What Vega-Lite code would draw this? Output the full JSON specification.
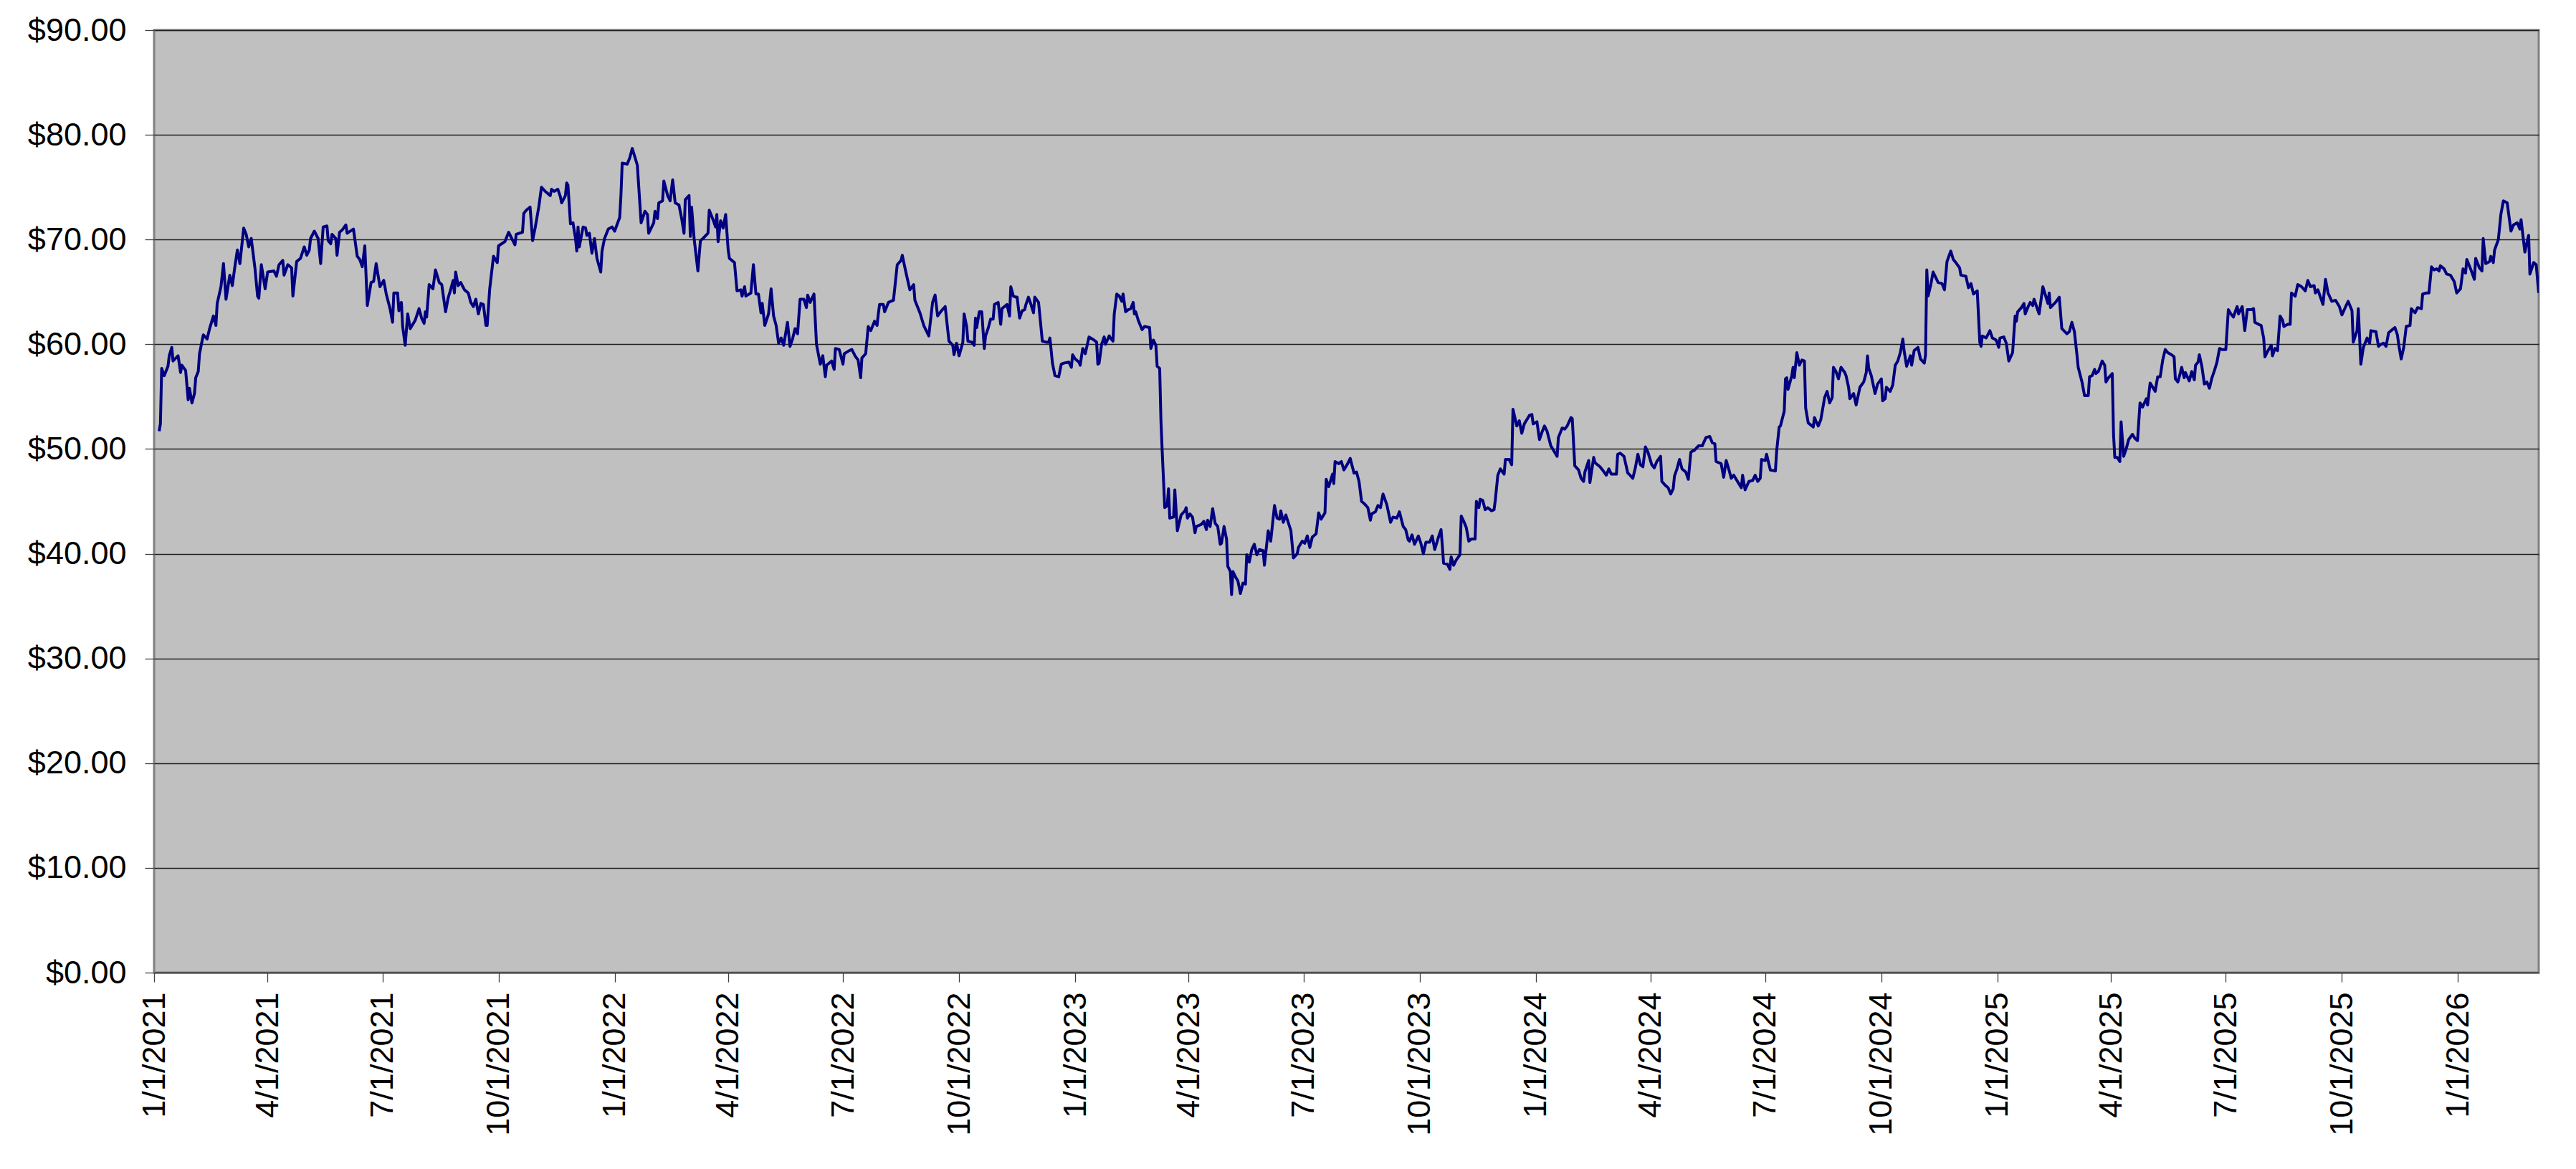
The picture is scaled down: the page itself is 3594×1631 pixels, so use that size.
{
  "$schema": "https://vega.github.io/schema/vega-lite/v6.json",
  "description": "Daily price, January 2021 to March 2026, Excel-style line chart on a grey plot area.",
  "width": 3327,
  "height": 1315,
  "autosize": "none",
  "padding": {"left": 215, "top": 42, "right": 52, "bottom": 274},
  "background": "white",
  "config": {
    "font": "Liberation Sans",
    "view": {"fill": "#C0C0C0", "stroke": "#808080", "strokeWidth": 3}
  },
  "data": {
    "values": [
      {"date": "2021-01-05", "price": 51.7}, {"date": "2021-01-06", "price": 52.4}, {"date": "2021-01-07", "price": 57.7}, {"date": "2021-01-09", "price": 57.0},
      {"date": "2021-01-12", "price": 57.9}, {"date": "2021-01-13", "price": 58.9}, {"date": "2021-01-15", "price": 59.7}, {"date": "2021-01-16", "price": 58.4},
      {"date": "2021-01-20", "price": 58.9}, {"date": "2021-01-22", "price": 57.3}, {"date": "2021-01-23", "price": 58.0}, {"date": "2021-01-26", "price": 57.5},
      {"date": "2021-01-28", "price": 54.7}, {"date": "2021-01-29", "price": 55.8}, {"date": "2021-01-31", "price": 54.4}, {"date": "2021-02-02", "price": 55.3},
      {"date": "2021-02-03", "price": 56.8}, {"date": "2021-02-05", "price": 57.4}, {"date": "2021-02-06", "price": 59.1}, {"date": "2021-02-09", "price": 60.9},
      {"date": "2021-02-12", "price": 60.5}, {"date": "2021-02-14", "price": 61.5}, {"date": "2021-02-17", "price": 62.7}, {"date": "2021-02-19", "price": 61.8},
      {"date": "2021-02-20", "price": 63.9}, {"date": "2021-02-23", "price": 65.5}, {"date": "2021-02-25", "price": 67.7}, {"date": "2021-02-27", "price": 64.3},
      {"date": "2021-03-02", "price": 66.6}, {"date": "2021-03-04", "price": 65.6}, {"date": "2021-03-06", "price": 67.4}, {"date": "2021-03-08", "price": 69.0},
      {"date": "2021-03-10", "price": 67.7}, {"date": "2021-03-13", "price": 71.1}, {"date": "2021-03-15", "price": 70.5}, {"date": "2021-03-17", "price": 69.3},
      {"date": "2021-03-19", "price": 70.1}, {"date": "2021-03-22", "price": 67.2}, {"date": "2021-03-24", "price": 64.6}, {"date": "2021-03-25", "price": 64.4},
      {"date": "2021-03-27", "price": 67.6}, {"date": "2021-03-30", "price": 65.3}, {"date": "2021-04-01", "price": 66.9}, {"date": "2021-04-06", "price": 67.0},
      {"date": "2021-04-08", "price": 66.5}, {"date": "2021-04-10", "price": 67.6}, {"date": "2021-04-13", "price": 68.0}, {"date": "2021-04-14", "price": 66.6},
      {"date": "2021-04-17", "price": 67.6}, {"date": "2021-04-20", "price": 67.3}, {"date": "2021-04-21", "price": 64.6}, {"date": "2021-04-24", "price": 67.9},
      {"date": "2021-04-27", "price": 68.2}, {"date": "2021-04-30", "price": 69.3}, {"date": "2021-05-02", "price": 68.5}, {"date": "2021-05-04", "price": 69.0},
      {"date": "2021-05-05", "price": 70.1}, {"date": "2021-05-08", "price": 70.8}, {"date": "2021-05-11", "price": 70.1}, {"date": "2021-05-13", "price": 67.7},
      {"date": "2021-05-15", "price": 71.2}, {"date": "2021-05-18", "price": 71.3}, {"date": "2021-05-19", "price": 69.9}, {"date": "2021-05-21", "price": 69.6},
      {"date": "2021-05-22", "price": 70.5}, {"date": "2021-05-25", "price": 70.1}, {"date": "2021-05-26", "price": 68.5}, {"date": "2021-05-28", "price": 70.7},
      {"date": "2021-05-30", "price": 70.9}, {"date": "2021-06-02", "price": 71.4}, {"date": "2021-06-03", "price": 70.6}, {"date": "2021-06-08", "price": 71.0},
      {"date": "2021-06-11", "price": 68.4}, {"date": "2021-06-13", "price": 68.1}, {"date": "2021-06-15", "price": 67.4}, {"date": "2021-06-17", "price": 69.4},
      {"date": "2021-06-19", "price": 63.7}, {"date": "2021-06-22", "price": 65.9}, {"date": "2021-06-24", "price": 66.0}, {"date": "2021-06-26", "price": 67.7},
      {"date": "2021-06-29", "price": 65.5}, {"date": "2021-07-02", "price": 66.1}, {"date": "2021-07-04", "price": 64.8}, {"date": "2021-07-07", "price": 63.4},
      {"date": "2021-07-09", "price": 62.1}, {"date": "2021-07-10", "price": 64.9}, {"date": "2021-07-13", "price": 64.9}, {"date": "2021-07-14", "price": 63.2},
      {"date": "2021-07-16", "price": 64.0}, {"date": "2021-07-17", "price": 61.7}, {"date": "2021-07-19", "price": 59.9}, {"date": "2021-07-21", "price": 62.9},
      {"date": "2021-07-23", "price": 61.5}, {"date": "2021-07-27", "price": 62.3}, {"date": "2021-07-30", "price": 63.4}, {"date": "2021-08-01", "price": 62.5},
      {"date": "2021-08-03", "price": 62.0}, {"date": "2021-08-04", "price": 63.1}, {"date": "2021-08-05", "price": 62.6}, {"date": "2021-08-07", "price": 65.7},
      {"date": "2021-08-10", "price": 65.3}, {"date": "2021-08-12", "price": 67.1}, {"date": "2021-08-15", "price": 65.9}, {"date": "2021-08-17", "price": 65.7},
      {"date": "2021-08-20", "price": 63.1}, {"date": "2021-08-22", "price": 64.4}, {"date": "2021-08-24", "price": 65.2}, {"date": "2021-08-26", "price": 66.1},
      {"date": "2021-08-27", "price": 64.9}, {"date": "2021-08-28", "price": 66.9}, {"date": "2021-08-30", "price": 65.6}, {"date": "2021-09-01", "price": 65.9},
      {"date": "2021-09-04", "price": 65.2}, {"date": "2021-09-07", "price": 64.9}, {"date": "2021-09-09", "price": 64.0}, {"date": "2021-09-11", "price": 63.6},
      {"date": "2021-09-13", "price": 64.3}, {"date": "2021-09-15", "price": 62.9}, {"date": "2021-09-17", "price": 63.9}, {"date": "2021-09-19", "price": 63.8},
      {"date": "2021-09-21", "price": 61.8}, {"date": "2021-09-22", "price": 61.8}, {"date": "2021-09-24", "price": 65.3}, {"date": "2021-09-27", "price": 68.4},
      {"date": "2021-09-30", "price": 67.8}, {"date": "2021-10-01", "price": 69.4}, {"date": "2021-10-06", "price": 69.8}, {"date": "2021-10-09", "price": 70.7},
      {"date": "2021-10-14", "price": 69.5}, {"date": "2021-10-15", "price": 70.5}, {"date": "2021-10-20", "price": 70.7}, {"date": "2021-10-21", "price": 72.5},
      {"date": "2021-10-23", "price": 72.8}, {"date": "2021-10-26", "price": 73.1}, {"date": "2021-10-28", "price": 69.9}, {"date": "2021-10-30", "price": 71.1},
      {"date": "2021-11-02", "price": 73.2}, {"date": "2021-11-04", "price": 75.0}, {"date": "2021-11-07", "price": 74.6}, {"date": "2021-11-11", "price": 74.2},
      {"date": "2021-11-12", "price": 74.8}, {"date": "2021-11-14", "price": 74.6}, {"date": "2021-11-17", "price": 74.8}, {"date": "2021-11-19", "price": 74.1},
      {"date": "2021-11-20", "price": 73.5}, {"date": "2021-11-23", "price": 74.2}, {"date": "2021-11-24", "price": 75.4}, {"date": "2021-11-25", "price": 75.2},
      {"date": "2021-11-27", "price": 71.5}, {"date": "2021-11-29", "price": 71.6}, {"date": "2021-12-01", "price": 70.1}, {"date": "2021-12-02", "price": 68.9},
      {"date": "2021-12-03", "price": 71.2}, {"date": "2021-12-04", "price": 69.3}, {"date": "2021-12-07", "price": 71.2}, {"date": "2021-12-09", "price": 71.1},
      {"date": "2021-12-10", "price": 70.4}, {"date": "2021-12-12", "price": 70.6}, {"date": "2021-12-14", "price": 68.7}, {"date": "2021-12-16", "price": 70.1},
      {"date": "2021-12-18", "price": 68.2}, {"date": "2021-12-21", "price": 66.9}, {"date": "2021-12-22", "price": 68.9}, {"date": "2021-12-24", "price": 70.1},
      {"date": "2021-12-27", "price": 71.0}, {"date": "2021-12-30", "price": 71.2}, {"date": "2022-01-01", "price": 70.8}, {"date": "2022-01-05", "price": 72.1},
      {"date": "2022-01-06", "price": 74.2}, {"date": "2022-01-07", "price": 77.3}, {"date": "2022-01-11", "price": 77.2}, {"date": "2022-01-13", "price": 77.8},
      {"date": "2022-01-15", "price": 78.7}, {"date": "2022-01-17", "price": 77.9}, {"date": "2022-01-19", "price": 77.1}, {"date": "2022-01-22", "price": 71.6},
      {"date": "2022-01-25", "price": 72.7}, {"date": "2022-01-27", "price": 72.4}, {"date": "2022-01-28", "price": 70.6}, {"date": "2022-02-01", "price": 71.6},
      {"date": "2022-02-02", "price": 72.7}, {"date": "2022-02-04", "price": 72.0}, {"date": "2022-02-05", "price": 73.5}, {"date": "2022-02-08", "price": 73.7},
      {"date": "2022-02-09", "price": 75.6}, {"date": "2022-02-12", "price": 74.2}, {"date": "2022-02-14", "price": 73.7}, {"date": "2022-02-16", "price": 75.7},
      {"date": "2022-02-18", "price": 73.5}, {"date": "2022-02-21", "price": 73.3}, {"date": "2022-02-23", "price": 72.1}, {"date": "2022-02-25", "price": 70.6},
      {"date": "2022-02-26", "price": 73.8}, {"date": "2022-03-01", "price": 74.2}, {"date": "2022-03-02", "price": 70.3}, {"date": "2022-03-03", "price": 73.1},
      {"date": "2022-03-05", "price": 70.1}, {"date": "2022-03-08", "price": 67.0}, {"date": "2022-03-10", "price": 69.9}, {"date": "2022-03-12", "price": 70.1},
      {"date": "2022-03-16", "price": 70.6}, {"date": "2022-03-17", "price": 72.8}, {"date": "2022-03-20", "price": 71.9}, {"date": "2022-03-22", "price": 71.2},
      {"date": "2022-03-23", "price": 72.4}, {"date": "2022-03-24", "price": 69.8}, {"date": "2022-03-26", "price": 71.8}, {"date": "2022-03-28", "price": 71.1},
      {"date": "2022-03-30", "price": 72.4}, {"date": "2022-04-01", "price": 69.0}, {"date": "2022-04-02", "price": 68.2}, {"date": "2022-04-06", "price": 67.8},
      {"date": "2022-04-08", "price": 65.1}, {"date": "2022-04-11", "price": 65.2}, {"date": "2022-04-12", "price": 64.6}, {"date": "2022-04-14", "price": 65.5},
      {"date": "2022-04-15", "price": 64.6}, {"date": "2022-04-19", "price": 64.9}, {"date": "2022-04-21", "price": 67.6}, {"date": "2022-04-23", "price": 64.8},
      {"date": "2022-04-25", "price": 64.8}, {"date": "2022-04-27", "price": 63.0}, {"date": "2022-04-28", "price": 63.9}, {"date": "2022-04-30", "price": 61.8},
      {"date": "2022-05-03", "price": 62.9}, {"date": "2022-05-05", "price": 65.3}, {"date": "2022-05-07", "price": 62.7}, {"date": "2022-05-09", "price": 61.8},
      {"date": "2022-05-11", "price": 60.1}, {"date": "2022-05-13", "price": 60.6}, {"date": "2022-05-15", "price": 59.9}, {"date": "2022-05-18", "price": 62.1},
      {"date": "2022-05-20", "price": 59.8}, {"date": "2022-05-22", "price": 60.5}, {"date": "2022-05-24", "price": 61.5}, {"date": "2022-05-26", "price": 61.0},
      {"date": "2022-05-28", "price": 64.3}, {"date": "2022-05-31", "price": 64.3}, {"date": "2022-06-02", "price": 63.5}, {"date": "2022-06-03", "price": 64.7},
      {"date": "2022-06-05", "price": 64.0}, {"date": "2022-06-08", "price": 64.8}, {"date": "2022-06-10", "price": 60.0}, {"date": "2022-06-13", "price": 58.1},
      {"date": "2022-06-15", "price": 58.9}, {"date": "2022-06-17", "price": 56.9}, {"date": "2022-06-18", "price": 58.0}, {"date": "2022-06-22", "price": 58.4},
      {"date": "2022-06-24", "price": 57.6}, {"date": "2022-06-25", "price": 59.6}, {"date": "2022-06-28", "price": 59.5}, {"date": "2022-07-01", "price": 58.1},
      {"date": "2022-07-02", "price": 59.1}, {"date": "2022-07-06", "price": 59.4}, {"date": "2022-07-08", "price": 59.5}, {"date": "2022-07-11", "price": 58.8},
      {"date": "2022-07-13", "price": 58.5}, {"date": "2022-07-15", "price": 56.8}, {"date": "2022-07-16", "price": 58.7}, {"date": "2022-07-19", "price": 59.1},
      {"date": "2022-07-21", "price": 61.7}, {"date": "2022-07-23", "price": 61.3}, {"date": "2022-07-26", "price": 62.2}, {"date": "2022-07-28", "price": 61.8},
      {"date": "2022-07-29", "price": 62.9}, {"date": "2022-07-30", "price": 63.8}, {"date": "2022-08-02", "price": 63.8}, {"date": "2022-08-03", "price": 63.1},
      {"date": "2022-08-06", "price": 64.0}, {"date": "2022-08-10", "price": 64.2}, {"date": "2022-08-13", "price": 67.6}, {"date": "2022-08-16", "price": 68.0},
      {"date": "2022-08-17", "price": 68.5}, {"date": "2022-08-20", "price": 66.8}, {"date": "2022-08-23", "price": 65.2}, {"date": "2022-08-26", "price": 65.7},
      {"date": "2022-08-27", "price": 64.2}, {"date": "2022-08-31", "price": 63.0}, {"date": "2022-09-03", "price": 61.8}, {"date": "2022-09-07", "price": 60.8},
      {"date": "2022-09-10", "price": 64.0}, {"date": "2022-09-12", "price": 64.7}, {"date": "2022-09-14", "price": 62.7}, {"date": "2022-09-17", "price": 63.2},
      {"date": "2022-09-20", "price": 63.6}, {"date": "2022-09-23", "price": 60.3}, {"date": "2022-09-26", "price": 59.9}, {"date": "2022-09-27", "price": 59.0},
      {"date": "2022-09-29", "price": 60.1}, {"date": "2022-10-01", "price": 58.9}, {"date": "2022-10-04", "price": 60.2}, {"date": "2022-10-05", "price": 62.9},
      {"date": "2022-10-07", "price": 61.7}, {"date": "2022-10-08", "price": 60.3}, {"date": "2022-10-11", "price": 60.2}, {"date": "2022-10-13", "price": 59.9},
      {"date": "2022-10-14", "price": 62.5}, {"date": "2022-10-15", "price": 61.6}, {"date": "2022-10-17", "price": 63.1}, {"date": "2022-10-19", "price": 63.1},
      {"date": "2022-10-21", "price": 59.6}, {"date": "2022-10-22", "price": 60.8}, {"date": "2022-10-24", "price": 61.5}, {"date": "2022-10-26", "price": 62.4},
      {"date": "2022-10-28", "price": 62.4}, {"date": "2022-10-29", "price": 63.8}, {"date": "2022-11-01", "price": 64.0}, {"date": "2022-11-03", "price": 61.9},
      {"date": "2022-11-04", "price": 63.4}, {"date": "2022-11-07", "price": 63.7}, {"date": "2022-11-08", "price": 63.8}, {"date": "2022-11-10", "price": 62.7},
      {"date": "2022-11-11", "price": 65.5}, {"date": "2022-11-13", "price": 64.6}, {"date": "2022-11-15", "price": 64.5}, {"date": "2022-11-16", "price": 64.5},
      {"date": "2022-11-18", "price": 62.5}, {"date": "2022-11-20", "price": 63.2}, {"date": "2022-11-22", "price": 63.3}, {"date": "2022-11-23", "price": 63.8},
      {"date": "2022-11-25", "price": 64.5}, {"date": "2022-11-27", "price": 63.8}, {"date": "2022-11-29", "price": 63.0}, {"date": "2022-11-30", "price": 64.5},
      {"date": "2022-12-03", "price": 64.0}, {"date": "2022-12-06", "price": 60.3}, {"date": "2022-12-09", "price": 60.2}, {"date": "2022-12-11", "price": 60.2},
      {"date": "2022-12-12", "price": 60.6}, {"date": "2022-12-14", "price": 58.2}, {"date": "2022-12-16", "price": 57.0}, {"date": "2022-12-19", "price": 56.9},
      {"date": "2022-12-21", "price": 58.1}, {"date": "2022-12-23", "price": 58.2}, {"date": "2022-12-27", "price": 58.3}, {"date": "2022-12-29", "price": 57.8},
      {"date": "2022-12-30", "price": 59.0}, {"date": "2023-01-01", "price": 58.6}, {"date": "2023-01-04", "price": 58.3}, {"date": "2023-01-05", "price": 58.0},
      {"date": "2023-01-07", "price": 59.6}, {"date": "2023-01-09", "price": 59.1}, {"date": "2023-01-12", "price": 60.7}, {"date": "2023-01-16", "price": 60.4},
      {"date": "2023-01-18", "price": 60.2}, {"date": "2023-01-19", "price": 58.1}, {"date": "2023-01-20", "price": 58.2}, {"date": "2023-01-22", "price": 60.0},
      {"date": "2023-01-24", "price": 60.7}, {"date": "2023-01-25", "price": 60.0}, {"date": "2023-01-28", "price": 60.8}, {"date": "2023-01-29", "price": 60.6},
      {"date": "2023-01-31", "price": 60.3}, {"date": "2023-02-01", "price": 62.9}, {"date": "2023-02-03", "price": 64.8}, {"date": "2023-02-05", "price": 64.6},
      {"date": "2023-02-07", "price": 64.1}, {"date": "2023-02-08", "price": 64.8}, {"date": "2023-02-10", "price": 63.1}, {"date": "2023-02-12", "price": 63.3},
      {"date": "2023-02-14", "price": 63.4}, {"date": "2023-02-16", "price": 64.0}, {"date": "2023-02-17", "price": 62.9}, {"date": "2023-02-18", "price": 63.1},
      {"date": "2023-02-20", "price": 62.3}, {"date": "2023-02-23", "price": 61.4}, {"date": "2023-02-25", "price": 61.7}, {"date": "2023-03-01", "price": 61.6},
      {"date": "2023-03-02", "price": 59.6}, {"date": "2023-03-04", "price": 60.4}, {"date": "2023-03-06", "price": 59.9}, {"date": "2023-03-07", "price": 57.9},
      {"date": "2023-03-09", "price": 57.7}, {"date": "2023-03-10", "price": 52.7}, {"date": "2023-03-11", "price": 49.8}, {"date": "2023-03-13", "price": 44.4},
      {"date": "2023-03-15", "price": 44.6}, {"date": "2023-03-16", "price": 46.2}, {"date": "2023-03-17", "price": 43.4}, {"date": "2023-03-20", "price": 43.5},
      {"date": "2023-03-21", "price": 46.1}, {"date": "2023-03-23", "price": 42.2}, {"date": "2023-03-26", "price": 43.7}, {"date": "2023-03-29", "price": 44.1},
      {"date": "2023-03-30", "price": 44.4}, {"date": "2023-03-31", "price": 43.4}, {"date": "2023-04-02", "price": 43.8}, {"date": "2023-04-04", "price": 43.5},
      {"date": "2023-04-06", "price": 42.0}, {"date": "2023-04-07", "price": 42.6}, {"date": "2023-04-11", "price": 42.8}, {"date": "2023-04-13", "price": 43.1},
      {"date": "2023-04-15", "price": 42.3}, {"date": "2023-04-16", "price": 43.2}, {"date": "2023-04-18", "price": 42.6}, {"date": "2023-04-20", "price": 44.3},
      {"date": "2023-04-22", "price": 42.9}, {"date": "2023-04-24", "price": 42.6}, {"date": "2023-04-26", "price": 40.9}, {"date": "2023-04-27", "price": 41.0},
      {"date": "2023-04-29", "price": 42.6}, {"date": "2023-05-01", "price": 41.4}, {"date": "2023-05-02", "price": 38.8}, {"date": "2023-05-04", "price": 38.3},
      {"date": "2023-05-05", "price": 36.1}, {"date": "2023-05-06", "price": 38.3}, {"date": "2023-05-08", "price": 37.8}, {"date": "2023-05-10", "price": 37.4},
      {"date": "2023-05-12", "price": 36.2}, {"date": "2023-05-14", "price": 37.2}, {"date": "2023-05-16", "price": 37.1}, {"date": "2023-05-17", "price": 39.9},
      {"date": "2023-05-19", "price": 39.2}, {"date": "2023-05-21", "price": 40.4}, {"date": "2023-05-23", "price": 40.9}, {"date": "2023-05-25", "price": 39.9},
      {"date": "2023-05-27", "price": 40.4}, {"date": "2023-05-30", "price": 40.3}, {"date": "2023-05-31", "price": 38.9}, {"date": "2023-06-03", "price": 42.2},
      {"date": "2023-06-05", "price": 41.2}, {"date": "2023-06-08", "price": 44.6}, {"date": "2023-06-10", "price": 43.4}, {"date": "2023-06-12", "price": 43.3},
      {"date": "2023-06-13", "price": 44.1}, {"date": "2023-06-15", "price": 43.0}, {"date": "2023-06-17", "price": 43.7}, {"date": "2023-06-21", "price": 42.2},
      {"date": "2023-06-23", "price": 39.6}, {"date": "2023-06-26", "price": 40.0}, {"date": "2023-06-27", "price": 40.6}, {"date": "2023-06-30", "price": 41.2},
      {"date": "2023-07-02", "price": 41.0}, {"date": "2023-07-04", "price": 41.7}, {"date": "2023-07-06", "price": 40.6}, {"date": "2023-07-08", "price": 41.6},
      {"date": "2023-07-11", "price": 41.9}, {"date": "2023-07-13", "price": 43.9}, {"date": "2023-07-15", "price": 43.3}, {"date": "2023-07-18", "price": 43.9},
      {"date": "2023-07-19", "price": 47.1}, {"date": "2023-07-21", "price": 46.4}, {"date": "2023-07-24", "price": 47.6}, {"date": "2023-07-25", "price": 46.7},
      {"date": "2023-07-26", "price": 48.8}, {"date": "2023-07-29", "price": 48.6}, {"date": "2023-07-31", "price": 48.8}, {"date": "2023-08-02", "price": 48.0},
      {"date": "2023-08-05", "price": 48.6}, {"date": "2023-08-07", "price": 49.1}, {"date": "2023-08-10", "price": 47.7}, {"date": "2023-08-12", "price": 47.8},
      {"date": "2023-08-14", "price": 46.9}, {"date": "2023-08-16", "price": 45.0}, {"date": "2023-08-18", "price": 44.8}, {"date": "2023-08-21", "price": 44.4},
      {"date": "2023-08-23", "price": 43.2}, {"date": "2023-08-24", "price": 43.8}, {"date": "2023-08-27", "price": 44.0}, {"date": "2023-08-29", "price": 44.6},
      {"date": "2023-08-31", "price": 44.4}, {"date": "2023-09-02", "price": 45.7}, {"date": "2023-09-05", "price": 44.7}, {"date": "2023-09-08", "price": 43.0},
      {"date": "2023-09-10", "price": 43.5}, {"date": "2023-09-13", "price": 43.4}, {"date": "2023-09-15", "price": 44.0}, {"date": "2023-09-18", "price": 42.6},
      {"date": "2023-09-20", "price": 42.3}, {"date": "2023-09-22", "price": 41.3}, {"date": "2023-09-23", "price": 41.2}, {"date": "2023-09-25", "price": 41.8},
      {"date": "2023-09-27", "price": 40.9}, {"date": "2023-09-30", "price": 41.7}, {"date": "2023-10-02", "price": 41.0}, {"date": "2023-10-04", "price": 40.0},
      {"date": "2023-10-06", "price": 41.1}, {"date": "2023-10-09", "price": 41.1}, {"date": "2023-10-11", "price": 41.7}, {"date": "2023-10-13", "price": 40.4},
      {"date": "2023-10-16", "price": 41.6}, {"date": "2023-10-18", "price": 42.3}, {"date": "2023-10-19", "price": 40.8}, {"date": "2023-10-20", "price": 39.1},
      {"date": "2023-10-23", "price": 39.0}, {"date": "2023-10-25", "price": 38.5}, {"date": "2023-10-26", "price": 39.7}, {"date": "2023-10-28", "price": 38.9},
      {"date": "2023-10-30", "price": 39.4}, {"date": "2023-11-02", "price": 39.9}, {"date": "2023-11-03", "price": 43.6}, {"date": "2023-11-05", "price": 43.1},
      {"date": "2023-11-07", "price": 42.5}, {"date": "2023-11-09", "price": 41.2}, {"date": "2023-11-11", "price": 41.4}, {"date": "2023-11-14", "price": 41.4},
      {"date": "2023-11-15", "price": 45.0}, {"date": "2023-11-17", "price": 44.4}, {"date": "2023-11-18", "price": 45.2}, {"date": "2023-11-20", "price": 45.1},
      {"date": "2023-11-22", "price": 44.2}, {"date": "2023-11-24", "price": 44.4}, {"date": "2023-11-27", "price": 44.1}, {"date": "2023-11-29", "price": 44.2},
      {"date": "2023-11-30", "price": 45.1}, {"date": "2023-12-02", "price": 47.5}, {"date": "2023-12-04", "price": 48.1}, {"date": "2023-12-07", "price": 47.6},
      {"date": "2023-12-08", "price": 49.0}, {"date": "2023-12-11", "price": 49.0}, {"date": "2023-12-13", "price": 48.5}, {"date": "2023-12-14", "price": 53.8},
      {"date": "2023-12-17", "price": 52.2}, {"date": "2023-12-19", "price": 52.7}, {"date": "2023-12-21", "price": 51.5}, {"date": "2023-12-23", "price": 52.4},
      {"date": "2023-12-27", "price": 53.2}, {"date": "2023-12-29", "price": 53.3}, {"date": "2023-12-30", "price": 52.4}, {"date": "2024-01-02", "price": 52.6},
      {"date": "2024-01-04", "price": 50.9}, {"date": "2024-01-06", "price": 51.6}, {"date": "2024-01-08", "price": 52.2}, {"date": "2024-01-10", "price": 51.7},
      {"date": "2024-01-13", "price": 50.3}, {"date": "2024-01-16", "price": 49.7}, {"date": "2024-01-18", "price": 49.3}, {"date": "2024-01-19", "price": 51.1},
      {"date": "2024-01-22", "price": 52.0}, {"date": "2024-01-24", "price": 51.9}, {"date": "2024-01-26", "price": 52.2}, {"date": "2024-01-29", "price": 53.0},
      {"date": "2024-01-30", "price": 52.9}, {"date": "2024-02-01", "price": 48.4}, {"date": "2024-02-04", "price": 48.0}, {"date": "2024-02-06", "price": 47.2},
      {"date": "2024-02-08", "price": 46.9}, {"date": "2024-02-09", "price": 47.8}, {"date": "2024-02-12", "price": 48.9}, {"date": "2024-02-13", "price": 46.8},
      {"date": "2024-02-16", "price": 49.2}, {"date": "2024-02-17", "price": 48.7}, {"date": "2024-02-21", "price": 48.3}, {"date": "2024-02-23", "price": 48.0},
      {"date": "2024-02-26", "price": 47.5}, {"date": "2024-02-28", "price": 48.1}, {"date": "2024-03-01", "price": 47.6}, {"date": "2024-03-05", "price": 47.6},
      {"date": "2024-03-06", "price": 49.5}, {"date": "2024-03-08", "price": 49.6}, {"date": "2024-03-11", "price": 49.3}, {"date": "2024-03-14", "price": 47.7},
      {"date": "2024-03-15", "price": 47.6}, {"date": "2024-03-18", "price": 47.2}, {"date": "2024-03-20", "price": 48.2}, {"date": "2024-03-22", "price": 49.5},
      {"date": "2024-03-24", "price": 48.5}, {"date": "2024-03-26", "price": 48.3}, {"date": "2024-03-28", "price": 50.2}, {"date": "2024-03-30", "price": 49.7},
      {"date": "2024-04-02", "price": 48.5}, {"date": "2024-04-04", "price": 48.2}, {"date": "2024-04-06", "price": 48.8}, {"date": "2024-04-09", "price": 49.3},
      {"date": "2024-04-10", "price": 46.9}, {"date": "2024-04-13", "price": 46.5}, {"date": "2024-04-15", "price": 46.3}, {"date": "2024-04-17", "price": 45.7},
      {"date": "2024-04-19", "price": 46.2}, {"date": "2024-04-20", "price": 47.4}, {"date": "2024-04-22", "price": 48.1}, {"date": "2024-04-24", "price": 49.0},
      {"date": "2024-04-26", "price": 48.1}, {"date": "2024-04-29", "price": 47.8}, {"date": "2024-05-01", "price": 47.1}, {"date": "2024-05-03", "price": 49.7},
      {"date": "2024-05-06", "price": 49.9}, {"date": "2024-05-09", "price": 50.3}, {"date": "2024-05-12", "price": 50.3}, {"date": "2024-05-15", "price": 51.1},
      {"date": "2024-05-18", "price": 51.2}, {"date": "2024-05-20", "price": 50.6}, {"date": "2024-05-22", "price": 50.5}, {"date": "2024-05-23", "price": 48.8},
      {"date": "2024-05-27", "price": 48.6}, {"date": "2024-05-29", "price": 47.3}, {"date": "2024-05-31", "price": 48.9}, {"date": "2024-06-02", "price": 48.1},
      {"date": "2024-06-04", "price": 47.2}, {"date": "2024-06-06", "price": 47.5}, {"date": "2024-06-10", "price": 46.7}, {"date": "2024-06-12", "price": 46.3},
      {"date": "2024-06-13", "price": 47.5}, {"date": "2024-06-15", "price": 46.1}, {"date": "2024-06-18", "price": 46.9}, {"date": "2024-06-21", "price": 47.0},
      {"date": "2024-06-23", "price": 47.5}, {"date": "2024-06-25", "price": 46.9}, {"date": "2024-06-27", "price": 47.2}, {"date": "2024-06-28", "price": 49.0},
      {"date": "2024-07-01", "price": 48.9}, {"date": "2024-07-02", "price": 49.5}, {"date": "2024-07-05", "price": 48.0}, {"date": "2024-07-09", "price": 47.9},
      {"date": "2024-07-10", "price": 49.8}, {"date": "2024-07-12", "price": 52.1}, {"date": "2024-07-13", "price": 52.2}, {"date": "2024-07-16", "price": 53.6},
      {"date": "2024-07-17", "price": 56.7}, {"date": "2024-07-18", "price": 56.8}, {"date": "2024-07-19", "price": 55.7}, {"date": "2024-07-22", "price": 57.0},
      {"date": "2024-07-23", "price": 57.8}, {"date": "2024-07-24", "price": 56.8}, {"date": "2024-07-26", "price": 59.2}, {"date": "2024-07-28", "price": 58.0},
      {"date": "2024-07-30", "price": 58.5}, {"date": "2024-08-01", "price": 58.4}, {"date": "2024-08-02", "price": 53.9}, {"date": "2024-08-04", "price": 52.5},
      {"date": "2024-08-06", "price": 52.3}, {"date": "2024-08-08", "price": 52.1}, {"date": "2024-08-09", "price": 53.0}, {"date": "2024-08-10", "price": 52.7},
      {"date": "2024-08-12", "price": 52.2}, {"date": "2024-08-14", "price": 52.8}, {"date": "2024-08-17", "price": 54.9}, {"date": "2024-08-19", "price": 55.5},
      {"date": "2024-08-21", "price": 54.4}, {"date": "2024-08-23", "price": 54.9}, {"date": "2024-08-24", "price": 57.8}, {"date": "2024-08-26", "price": 57.4},
      {"date": "2024-08-28", "price": 56.7}, {"date": "2024-08-30", "price": 57.8}, {"date": "2024-09-02", "price": 57.3}, {"date": "2024-09-03", "price": 57.0},
      {"date": "2024-09-05", "price": 55.9}, {"date": "2024-09-06", "price": 54.8}, {"date": "2024-09-09", "price": 55.3}, {"date": "2024-09-11", "price": 54.2},
      {"date": "2024-09-14", "price": 55.9}, {"date": "2024-09-17", "price": 56.4}, {"date": "2024-09-19", "price": 57.3}, {"date": "2024-09-20", "price": 58.9},
      {"date": "2024-09-21", "price": 57.7}, {"date": "2024-09-23", "price": 57.0}, {"date": "2024-09-26", "price": 55.3}, {"date": "2024-09-28", "price": 56.2},
      {"date": "2024-10-01", "price": 56.7}, {"date": "2024-10-02", "price": 54.6}, {"date": "2024-10-04", "price": 54.8}, {"date": "2024-10-05", "price": 55.9},
      {"date": "2024-10-08", "price": 55.5}, {"date": "2024-10-10", "price": 56.1}, {"date": "2024-10-12", "price": 58.0}, {"date": "2024-10-14", "price": 58.4},
      {"date": "2024-10-16", "price": 59.2}, {"date": "2024-10-18", "price": 60.5}, {"date": "2024-10-19", "price": 59.4}, {"date": "2024-10-21", "price": 57.9},
      {"date": "2024-10-24", "price": 58.9}, {"date": "2024-10-25", "price": 58.0}, {"date": "2024-10-27", "price": 59.4}, {"date": "2024-10-30", "price": 59.7},
      {"date": "2024-11-01", "price": 58.6}, {"date": "2024-11-04", "price": 58.2}, {"date": "2024-11-05", "price": 59.0}, {"date": "2024-11-06", "price": 67.1},
      {"date": "2024-11-07", "price": 64.6}, {"date": "2024-11-09", "price": 65.6}, {"date": "2024-11-11", "price": 66.9}, {"date": "2024-11-15", "price": 65.9},
      {"date": "2024-11-18", "price": 65.8}, {"date": "2024-11-20", "price": 65.2}, {"date": "2024-11-22", "price": 67.9}, {"date": "2024-11-25", "price": 68.9},
      {"date": "2024-11-27", "price": 68.1}, {"date": "2024-11-29", "price": 67.8}, {"date": "2024-12-02", "price": 67.3}, {"date": "2024-12-03", "price": 66.6},
      {"date": "2024-12-07", "price": 66.5}, {"date": "2024-12-09", "price": 65.4}, {"date": "2024-12-11", "price": 65.8}, {"date": "2024-12-13", "price": 64.8},
      {"date": "2024-12-16", "price": 65.1}, {"date": "2024-12-18", "price": 60.2}, {"date": "2024-12-19", "price": 59.8}, {"date": "2024-12-20", "price": 60.8},
      {"date": "2024-12-23", "price": 60.6}, {"date": "2024-12-26", "price": 61.3}, {"date": "2024-12-28", "price": 60.6}, {"date": "2024-12-31", "price": 60.4},
      {"date": "2025-01-02", "price": 59.7}, {"date": "2025-01-03", "price": 60.6}, {"date": "2025-01-06", "price": 60.7}, {"date": "2025-01-08", "price": 60.1},
      {"date": "2025-01-10", "price": 58.4}, {"date": "2025-01-13", "price": 59.2}, {"date": "2025-01-15", "price": 62.7}, {"date": "2025-01-16", "price": 62.2},
      {"date": "2025-01-17", "price": 63.1}, {"date": "2025-01-20", "price": 63.5}, {"date": "2025-01-22", "price": 63.9}, {"date": "2025-01-23", "price": 62.9},
      {"date": "2025-01-25", "price": 63.5}, {"date": "2025-01-27", "price": 64.0}, {"date": "2025-01-29", "price": 63.7}, {"date": "2025-01-30", "price": 64.3},
      {"date": "2025-02-01", "price": 63.6}, {"date": "2025-02-03", "price": 62.9}, {"date": "2025-02-06", "price": 65.5}, {"date": "2025-02-09", "price": 64.3},
      {"date": "2025-02-10", "price": 63.9}, {"date": "2025-02-11", "price": 64.9}, {"date": "2025-02-12", "price": 63.5}, {"date": "2025-02-16", "price": 64.0},
      {"date": "2025-02-19", "price": 64.5}, {"date": "2025-02-21", "price": 61.5}, {"date": "2025-02-25", "price": 61.0}, {"date": "2025-02-27", "price": 61.2},
      {"date": "2025-03-01", "price": 62.1}, {"date": "2025-03-03", "price": 61.2}, {"date": "2025-03-05", "price": 59.0}, {"date": "2025-03-06", "price": 57.8},
      {"date": "2025-03-09", "price": 56.4}, {"date": "2025-03-11", "price": 55.1}, {"date": "2025-03-14", "price": 55.1}, {"date": "2025-03-15", "price": 56.9},
      {"date": "2025-03-17", "price": 57.0}, {"date": "2025-03-19", "price": 57.6}, {"date": "2025-03-20", "price": 57.2}, {"date": "2025-03-22", "price": 57.4},
      {"date": "2025-03-25", "price": 58.4}, {"date": "2025-03-27", "price": 58.0}, {"date": "2025-03-28", "price": 56.4}, {"date": "2025-03-30", "price": 56.8},
      {"date": "2025-04-02", "price": 57.2}, {"date": "2025-04-03", "price": 51.4}, {"date": "2025-04-04", "price": 49.2}, {"date": "2025-04-06", "price": 49.2},
      {"date": "2025-04-08", "price": 48.8}, {"date": "2025-04-09", "price": 52.6}, {"date": "2025-04-11", "price": 49.3}, {"date": "2025-04-13", "price": 50.0},
      {"date": "2025-04-15", "price": 50.9}, {"date": "2025-04-18", "price": 51.4}, {"date": "2025-04-20", "price": 51.0}, {"date": "2025-04-22", "price": 50.8},
      {"date": "2025-04-24", "price": 54.4}, {"date": "2025-04-26", "price": 54.0}, {"date": "2025-04-29", "price": 54.8}, {"date": "2025-04-30", "price": 54.2},
      {"date": "2025-05-02", "price": 56.3}, {"date": "2025-05-06", "price": 55.5}, {"date": "2025-05-08", "price": 56.9}, {"date": "2025-05-10", "price": 56.9},
      {"date": "2025-05-12", "price": 58.5}, {"date": "2025-05-14", "price": 59.5}, {"date": "2025-05-16", "price": 59.2}, {"date": "2025-05-19", "price": 59.0},
      {"date": "2025-05-21", "price": 58.8}, {"date": "2025-05-22", "price": 56.7}, {"date": "2025-05-24", "price": 56.4}, {"date": "2025-05-26", "price": 57.3},
      {"date": "2025-05-27", "price": 57.8}, {"date": "2025-05-29", "price": 56.8}, {"date": "2025-05-30", "price": 57.3}, {"date": "2025-06-02", "price": 56.5},
      {"date": "2025-06-04", "price": 57.4}, {"date": "2025-06-06", "price": 56.6}, {"date": "2025-06-07", "price": 58.0}, {"date": "2025-06-09", "price": 58.3},
      {"date": "2025-06-10", "price": 59.0}, {"date": "2025-06-12", "price": 57.9}, {"date": "2025-06-14", "price": 56.2}, {"date": "2025-06-16", "price": 56.4},
      {"date": "2025-06-18", "price": 55.8}, {"date": "2025-06-20", "price": 56.8}, {"date": "2025-06-22", "price": 57.5}, {"date": "2025-06-24", "price": 58.3},
      {"date": "2025-06-26", "price": 59.6}, {"date": "2025-06-28", "price": 59.5}, {"date": "2025-07-01", "price": 59.5}, {"date": "2025-07-03", "price": 63.3},
      {"date": "2025-07-05", "price": 62.9}, {"date": "2025-07-07", "price": 62.6}, {"date": "2025-07-09", "price": 63.3}, {"date": "2025-07-10", "price": 63.6},
      {"date": "2025-07-11", "price": 62.9}, {"date": "2025-07-14", "price": 63.6}, {"date": "2025-07-16", "price": 61.3}, {"date": "2025-07-18", "price": 63.3},
      {"date": "2025-07-21", "price": 63.3}, {"date": "2025-07-23", "price": 63.4}, {"date": "2025-07-24", "price": 62.1}, {"date": "2025-07-27", "price": 61.9},
      {"date": "2025-07-29", "price": 61.8}, {"date": "2025-07-31", "price": 60.6}, {"date": "2025-08-01", "price": 58.8}, {"date": "2025-08-03", "price": 59.3},
      {"date": "2025-08-06", "price": 59.9}, {"date": "2025-08-07", "price": 58.9}, {"date": "2025-08-09", "price": 59.6}, {"date": "2025-08-11", "price": 59.4},
      {"date": "2025-08-13", "price": 62.7}, {"date": "2025-08-15", "price": 62.3}, {"date": "2025-08-16", "price": 61.7}, {"date": "2025-08-19", "price": 61.9},
      {"date": "2025-08-21", "price": 61.9}, {"date": "2025-08-22", "price": 64.9}, {"date": "2025-08-25", "price": 64.6}, {"date": "2025-08-27", "price": 65.7},
      {"date": "2025-08-30", "price": 65.5}, {"date": "2025-09-02", "price": 65.1}, {"date": "2025-09-04", "price": 66.1}, {"date": "2025-09-06", "price": 65.5},
      {"date": "2025-09-09", "price": 65.6}, {"date": "2025-09-10", "price": 64.9}, {"date": "2025-09-12", "price": 65.2}, {"date": "2025-09-14", "price": 64.5},
      {"date": "2025-09-16", "price": 63.8}, {"date": "2025-09-18", "price": 66.2}, {"date": "2025-09-20", "price": 64.9}, {"date": "2025-09-23", "price": 64.1},
      {"date": "2025-09-26", "price": 64.2}, {"date": "2025-09-29", "price": 63.6}, {"date": "2025-10-01", "price": 62.8}, {"date": "2025-10-04", "price": 63.6},
      {"date": "2025-10-06", "price": 64.1}, {"date": "2025-10-09", "price": 63.2}, {"date": "2025-10-10", "price": 60.2}, {"date": "2025-10-13", "price": 61.3},
      {"date": "2025-10-14", "price": 63.4}, {"date": "2025-10-16", "price": 58.1}, {"date": "2025-10-18", "price": 59.7}, {"date": "2025-10-21", "price": 60.6},
      {"date": "2025-10-23", "price": 60.1}, {"date": "2025-10-24", "price": 61.3}, {"date": "2025-10-28", "price": 61.2}, {"date": "2025-10-30", "price": 59.8},
      {"date": "2025-11-01", "price": 60.0}, {"date": "2025-11-03", "price": 60.1}, {"date": "2025-11-05", "price": 59.8}, {"date": "2025-11-07", "price": 61.1},
      {"date": "2025-11-10", "price": 61.4}, {"date": "2025-11-12", "price": 61.6}, {"date": "2025-11-14", "price": 60.9}, {"date": "2025-11-15", "price": 60.0},
      {"date": "2025-11-17", "price": 58.6}, {"date": "2025-11-19", "price": 59.7}, {"date": "2025-11-21", "price": 61.7}, {"date": "2025-11-24", "price": 61.8},
      {"date": "2025-11-25", "price": 63.4}, {"date": "2025-11-28", "price": 63.0}, {"date": "2025-11-30", "price": 63.5}, {"date": "2025-12-03", "price": 63.4},
      {"date": "2025-12-04", "price": 64.8}, {"date": "2025-12-07", "price": 64.9}, {"date": "2025-12-09", "price": 64.9}, {"date": "2025-12-11", "price": 67.4},
      {"date": "2025-12-13", "price": 67.1}, {"date": "2025-12-15", "price": 67.2}, {"date": "2025-12-17", "price": 67.0}, {"date": "2025-12-18", "price": 67.5},
      {"date": "2025-12-21", "price": 67.2}, {"date": "2025-12-23", "price": 66.7}, {"date": "2025-12-26", "price": 66.6}, {"date": "2025-12-29", "price": 66.0},
      {"date": "2025-12-31", "price": 64.9}, {"date": "2026-01-03", "price": 65.3}, {"date": "2026-01-05", "price": 67.2}, {"date": "2026-01-07", "price": 66.8},
      {"date": "2026-01-08", "price": 68.1}, {"date": "2026-01-11", "price": 67.2}, {"date": "2026-01-14", "price": 66.2}, {"date": "2026-01-15", "price": 68.2},
      {"date": "2026-01-18", "price": 67.3}, {"date": "2026-01-20", "price": 67.0}, {"date": "2026-01-21", "price": 70.1}, {"date": "2026-01-23", "price": 67.7},
      {"date": "2026-01-26", "price": 67.9}, {"date": "2026-01-27", "price": 68.4}, {"date": "2026-01-29", "price": 67.8}, {"date": "2026-01-30", "price": 69.0},
      {"date": "2026-02-02", "price": 70.0}, {"date": "2026-02-04", "price": 72.4}, {"date": "2026-02-06", "price": 73.7}, {"date": "2026-02-09", "price": 73.5},
      {"date": "2026-02-12", "price": 70.8}, {"date": "2026-02-14", "price": 71.4}, {"date": "2026-02-17", "price": 71.6}, {"date": "2026-02-19", "price": 71.0},
      {"date": "2026-02-20", "price": 71.9}, {"date": "2026-02-23", "price": 68.8}, {"date": "2026-02-25", "price": 69.9}, {"date": "2026-02-26", "price": 70.4},
      {"date": "2026-02-27", "price": 66.7}, {"date": "2026-03-02", "price": 67.8}, {"date": "2026-03-04", "price": 67.6}, {"date": "2026-03-06", "price": 64.9}
    ]
  },
  "mark": {"type": "line", "color": "#000080", "strokeWidth": 4, "strokeJoin": "round", "clip": true},
  "encoding": {
    "x": {
      "field": "date",
      "type": "temporal",
      "scale": {
        "type": "utc",
        "domain": [
          {"year": 2021, "month": 1, "date": 1, "utc": true},
          {"year": 2026, "month": 3, "date": 6, "utc": true}
        ]
      },
      "axis": {
        "title": null,
        "values": [
          {"year": 2021, "month": 1, "date": 1, "utc": true}, {"year": 2021, "month": 4, "date": 1, "utc": true},
          {"year": 2021, "month": 7, "date": 1, "utc": true}, {"year": 2021, "month": 10, "date": 1, "utc": true},
          {"year": 2022, "month": 1, "date": 1, "utc": true}, {"year": 2022, "month": 4, "date": 1, "utc": true},
          {"year": 2022, "month": 7, "date": 1, "utc": true}, {"year": 2022, "month": 10, "date": 1, "utc": true},
          {"year": 2023, "month": 1, "date": 1, "utc": true}, {"year": 2023, "month": 4, "date": 1, "utc": true},
          {"year": 2023, "month": 7, "date": 1, "utc": true}, {"year": 2023, "month": 10, "date": 1, "utc": true},
          {"year": 2024, "month": 1, "date": 1, "utc": true}, {"year": 2024, "month": 4, "date": 1, "utc": true},
          {"year": 2024, "month": 7, "date": 1, "utc": true}, {"year": 2024, "month": 10, "date": 1, "utc": true},
          {"year": 2025, "month": 1, "date": 1, "utc": true}, {"year": 2025, "month": 4, "date": 1, "utc": true},
          {"year": 2025, "month": 7, "date": 1, "utc": true}, {"year": 2025, "month": 10, "date": 1, "utc": true},
          {"year": 2026, "month": 1, "date": 1, "utc": true}
        ],
        "format": "%-m/%-d/%Y",
        "labelAngle": 270,
        "labelAlign": "right",
        "labelBaseline": "middle",
        "labelFont": "Liberation Sans",
        "labelFontSize": 45,
        "labelColor": "#000000",
        "labelPadding": 14,
        "labelLimit": 0,
        "labelOverlap": false,
        "labelFlush": false,
        "tickSize": 13,
        "tickColor": "#404040",
        "tickWidth": 1.3,
        "domain": false,
        "grid": false
      }
    },
    "y": {
      "field": "price",
      "type": "quantitative",
      "scale": {"domain": [0, 90], "nice": false, "zero": true},
      "axis": {
        "title": null,
        "values": [0, 10, 20, 30, 40, 50, 60, 70, 80, 90],
        "format": "$.2f",
        "labelFont": "Liberation Sans",
        "labelFontSize": 45,
        "labelColor": "#000000",
        "labelPadding": 26,
        "labelLimit": 0,
        "labelFlush": false,
        "labelOverlap": false,
        "tickSize": 13,
        "tickColor": "#404040",
        "tickWidth": 1.3,
        "domain": false,
        "grid": true,
        "gridColor": "#202020",
        "gridWidth": 1.3
      }
    }
  }
}
